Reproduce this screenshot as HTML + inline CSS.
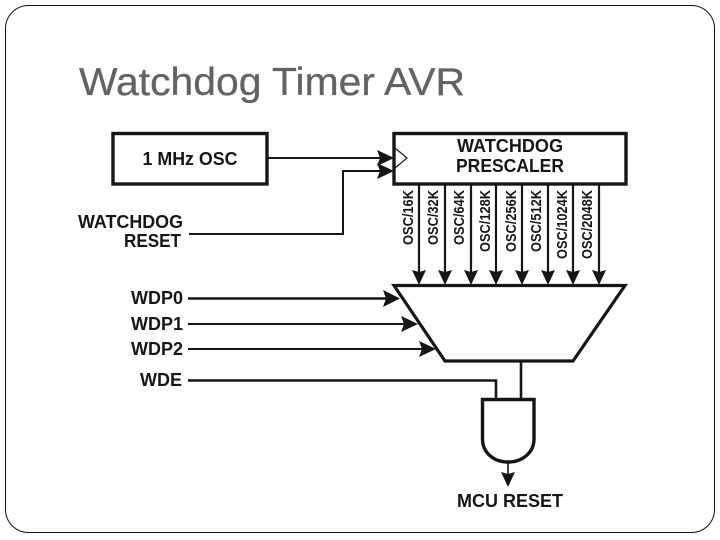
<!DOCTYPE html>
<html>
<head>
<meta charset="utf-8">
<style>
html,body{margin:0;padding:0;background:#fff;width:720px;height:540px;overflow:hidden}
svg{display:block}
text{font-family:"Liberation Sans",Arial,sans-serif}
.t{fill:#161616;font-size:18px;font-weight:bold}
.r{fill:#161616;font-size:14.500px;font-weight:bold}
.l{stroke:#161616;fill:none}
.a{fill:#161616}
.s{filter:blur(.35px)}
</style>
</head>
<body>
<svg width="720" height="540" viewBox="0 0 720 540" xmlns="http://www.w3.org/2000/svg">
<rect x="5.500" y="5.500" width="709" height="527" rx="23" ry="23" fill="#fff" stroke="#111" stroke-width="1"/>
<text x="79" y="95" font-size="39" fill="#636363" stroke="#636363" stroke-width=".3" textLength="386" lengthAdjust="spacingAndGlyphs">Watchdog Timer AVR</text>

<g class="s">
<rect x="113" y="133.500" width="154" height="50.500" fill="#fff" class="l" stroke-width="3.400"/>
<text class="t" x="190" y="165" text-anchor="middle" textLength="95" lengthAdjust="spacingAndGlyphs">1 MHz OSC</text>
<rect x="394" y="133.500" width="232" height="50.500" fill="#fff" class="l" stroke-width="3.400"/>
<path class="l" stroke-width="1.200" d="M395 148 L407 158 L395 168"/>
<text class="t" x="510" y="152" text-anchor="middle" textLength="106" lengthAdjust="spacingAndGlyphs">WATCHDOG</text>
<text class="t" x="510" y="172" text-anchor="middle" textLength="108" lengthAdjust="spacingAndGlyphs">PRESCALER</text>

<path class="l" stroke-width="2" d="M267 158H385"/>
<path class="a" d="M377 150L394 158L377 166L380 158Z"/>
<path class="l" stroke-width="2" d="M189 234H343V171H385"/>
<path class="a" d="M377 163L394 171L377 179L380 171Z"/>
<text class="t" x="183" y="228" text-anchor="end" textLength="105" lengthAdjust="spacingAndGlyphs">WATCHDOG</text>
<text class="t" x="181" y="247" text-anchor="end" textLength="57" lengthAdjust="spacingAndGlyphs">RESET</text>

<path class="l" stroke-width="2.200" d="M419 184V275M445 184V275M471 184V275M496 184V275M522 184V275M548 184V275M573 184V275M599 184V275"/>
<g class="a">
<path d="M412 270L419 285L426 270L419 272Z"/>
<path d="M438 270L445 285L452 270L445 272Z"/>
<path d="M464 270L471 285L478 270L471 272Z"/>
<path d="M489 270L496 285L503 270L496 272Z"/>
<path d="M515 270L522 285L529 270L522 272Z"/>
<path d="M541 270L548 285L555 270L548 272Z"/>
<path d="M566 270L573 285L580 270L573 272Z"/>
<path d="M592 270L599 285L606 270L599 272Z"/>
</g>
<g class="r">
<text transform="translate(413,245) rotate(-90)" textLength="55" lengthAdjust="spacingAndGlyphs">OSC/16K</text>
<text transform="translate(438,245) rotate(-90)" textLength="55" lengthAdjust="spacingAndGlyphs">OSC/32K</text>
<text transform="translate(464,245) rotate(-90)" textLength="55" lengthAdjust="spacingAndGlyphs">OSC/64K</text>
<text transform="translate(490,252) rotate(-90)" textLength="62" lengthAdjust="spacingAndGlyphs">OSC/128K</text>
<text transform="translate(516,252) rotate(-90)" textLength="62" lengthAdjust="spacingAndGlyphs">OSC/256K</text>
<text transform="translate(541,252) rotate(-90)" textLength="62" lengthAdjust="spacingAndGlyphs">OSC/512K</text>
<text transform="translate(567,259) rotate(-90)" textLength="69" lengthAdjust="spacingAndGlyphs">OSC/1024K</text>
<text transform="translate(592,259) rotate(-90)" textLength="69" lengthAdjust="spacingAndGlyphs">OSC/2048K</text>
</g>

<path class="l" stroke-width="3.200" d="M394 285.500H625L573 361H445Z" fill="#fff"/>

<path class="l" stroke-width="2.400" d="M188 298.500H392"/>
<path class="a" d="M383 290L400 298.500L383 307L386 298.500Z"/>
<path class="l" stroke-width="2" d="M188 324H410"/>
<path class="a" d="M401 316L418 324L401 332L404 324Z"/>
<path class="l" stroke-width="2" d="M188 349H428"/>
<path class="a" d="M419 341L436 349L419 357L422 349Z"/>
<path class="l" stroke-width="2.600" d="M188 380.500H496V399"/>
<path class="l" stroke-width="2.600" d="M521 361V399"/>

<g class="t">
<text x="183" y="304" text-anchor="end" textLength="52" lengthAdjust="spacingAndGlyphs">WDP0</text>
<text x="183" y="330" text-anchor="end" textLength="52" lengthAdjust="spacingAndGlyphs">WDP1</text>
<text x="183" y="355" text-anchor="end" textLength="52" lengthAdjust="spacingAndGlyphs">WDP2</text>
<text x="182" y="386" text-anchor="end" textLength="42" lengthAdjust="spacingAndGlyphs">WDE</text>
</g>

<path class="l" stroke-width="3.400" fill="#fff" d="M482.500 399.500H534V439C534 452 523 462 508 462C493 462 482.500 452 482.500 439Z"/>
<path class="l" stroke-width="1.600" d="M508 462V476"/>
<path class="a" d="M501 472L508 487L515 472L508 474Z"/>
<text class="t" x="510" y="507" text-anchor="middle" textLength="106" lengthAdjust="spacingAndGlyphs">MCU RESET</text>
</g>
</svg>
</body>
</html>
